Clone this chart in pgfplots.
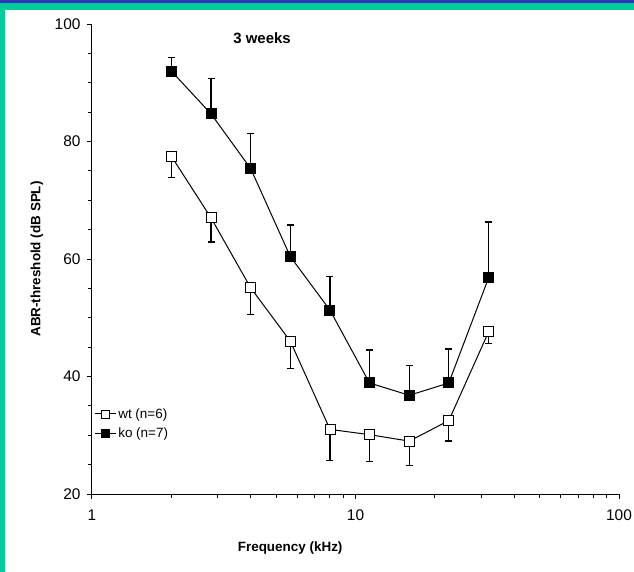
\documentclass[border=0pt]{standalone}
\usepackage{fontspec}
\setmainfont{Liberation Sans}
\usepackage{pgfplots}
\pgfplotsset{compat=1.18}
\usetikzlibrary{calc}
\definecolor{bandblue}{RGB}{51,51,187}
\definecolor{bandteal}{RGB}{0,204,153}
\begin{document}
\begin{tikzpicture}
\fill[white] (-92bp,-78bp) rectangle (542bp,494bp);
\fill[bandteal] (-92bp,-78bp) rectangle (-87bp,484bp);
\fill[bandteal] (-92bp,484bp) rectangle (542bp,491bp);
\fill[bandblue] (-92bp,491bp) rectangle (542bp,494bp);
\begin{axis}[
  at={(0,0)}, anchor=south west,
  scale only axis, width=527bp, height=470bp,
  xmode=log, xmin=1, xmax=100, ymin=20, ymax=100,
  axis lines*=left,
  axis line style={line width=1bp},
  xtick={1,10,100}, xticklabels={1,10,100},
  minor xtick={2,3,4,5,6,7,8,9,20,30,40,50,60,70,80,90},
  ytick={20,40,60,80,100},
  minor ytick={25,30,35,45,50,55,65,70,75,85,90,95},
  tick align=outside,
  major tick length=5bp, minor tick length=4bp,
  tick style={line width=1bp, black},
  /pgf/number format/assume math mode=true,
  xticklabel style={font=\fontsize{15.5}{18}\selectfont, yshift=-7bp},
  yticklabel style={font=\fontsize{15.5}{18}\selectfont, xshift=-3bp},
  xlabel={\fontsize{13.5}{16}\selectfont\bfseries Frequency (kHz)},
  ylabel={\fontsize{13.5}{16}\selectfont\bfseries ABR-threshold (dB SPL)},
  xlabel style={at={($(rel axis cs:0.376,0)+(0,-54bp)$)}, anchor=center},
  ylabel style={at={($(rel axis cs:0,0.5)+(-55bp,0)$)}, anchor=center},
  legend style={at={(rel axis cs:0.004,0.187)}, anchor=north west, draw=none, fill=none,
    font=\fontsize{13.5}{16}\selectfont, row sep=4bp, inner sep=0pt, cells={anchor=west}},
  legend image code/.code={\draw[#1, mark repeat=2, mark phase=2, mark size=4bp]
    plot coordinates {(0bp,0bp)(10.5bp,0bp)(21bp,0bp)};},
  clip=false,
]
\addplot[black, line width=1bp, mark=square*, mark size=5bp,
  mark options={fill=white, line width=0.8bp},
  error bars/.cd, y dir=minus, y explicit,
  error bar style={line width=1.3bp},
  error mark options={rotate=90, mark size=3.5bp, line width=1.3bp}]
  coordinates {
  (2,77.5) -= (0,3.6)
  (2.83,67.0) -= (0,4.1)
  (4,55.1) -= (0,4.5)
  (5.66,46.0) -= (0,4.6)
  (8,31.0) -= (0,5.3)
  (11.3,30.1) -= (0,4.6)
  (16,29.0) -= (0,4.2)
  (22.6,32.5) -= (0,3.5)
  (32,47.6) -= (0,2.0)
  };
\addlegendentry{wt (n=6)}
\addplot[black, line width=1bp, mark=square*, mark size=5bp,
  mark options={fill=black},
  error bars/.cd, y dir=plus, y explicit,
  error bar style={line width=1.3bp},
  error mark options={rotate=90, mark size=3.5bp, line width=1.3bp}]
  coordinates {
  (2,92.0) += (0,2.3)
  (2.83,84.7) += (0,6.0)
  (4,75.4) += (0,6.0)
  (5.66,60.4) += (0,5.4)
  (8,51.3) += (0,5.7)
  (11.3,38.9) += (0,5.6)
  (16,36.8) += (0,5.1)
  (22.6,38.9) += (0,5.8)
  (32,56.8) += (0,9.5)
  };
\addlegendentry{ko (n=7)}
\node[font=\fontsize{15}{18}\selectfont\bfseries] at (axis cs:4.42,97.6) {3 weeks};
\end{axis}
\pgfresetboundingbox
\useasboundingbox (-92bp,-78bp) rectangle (542bp,494bp);
\end{tikzpicture}
\end{document}
